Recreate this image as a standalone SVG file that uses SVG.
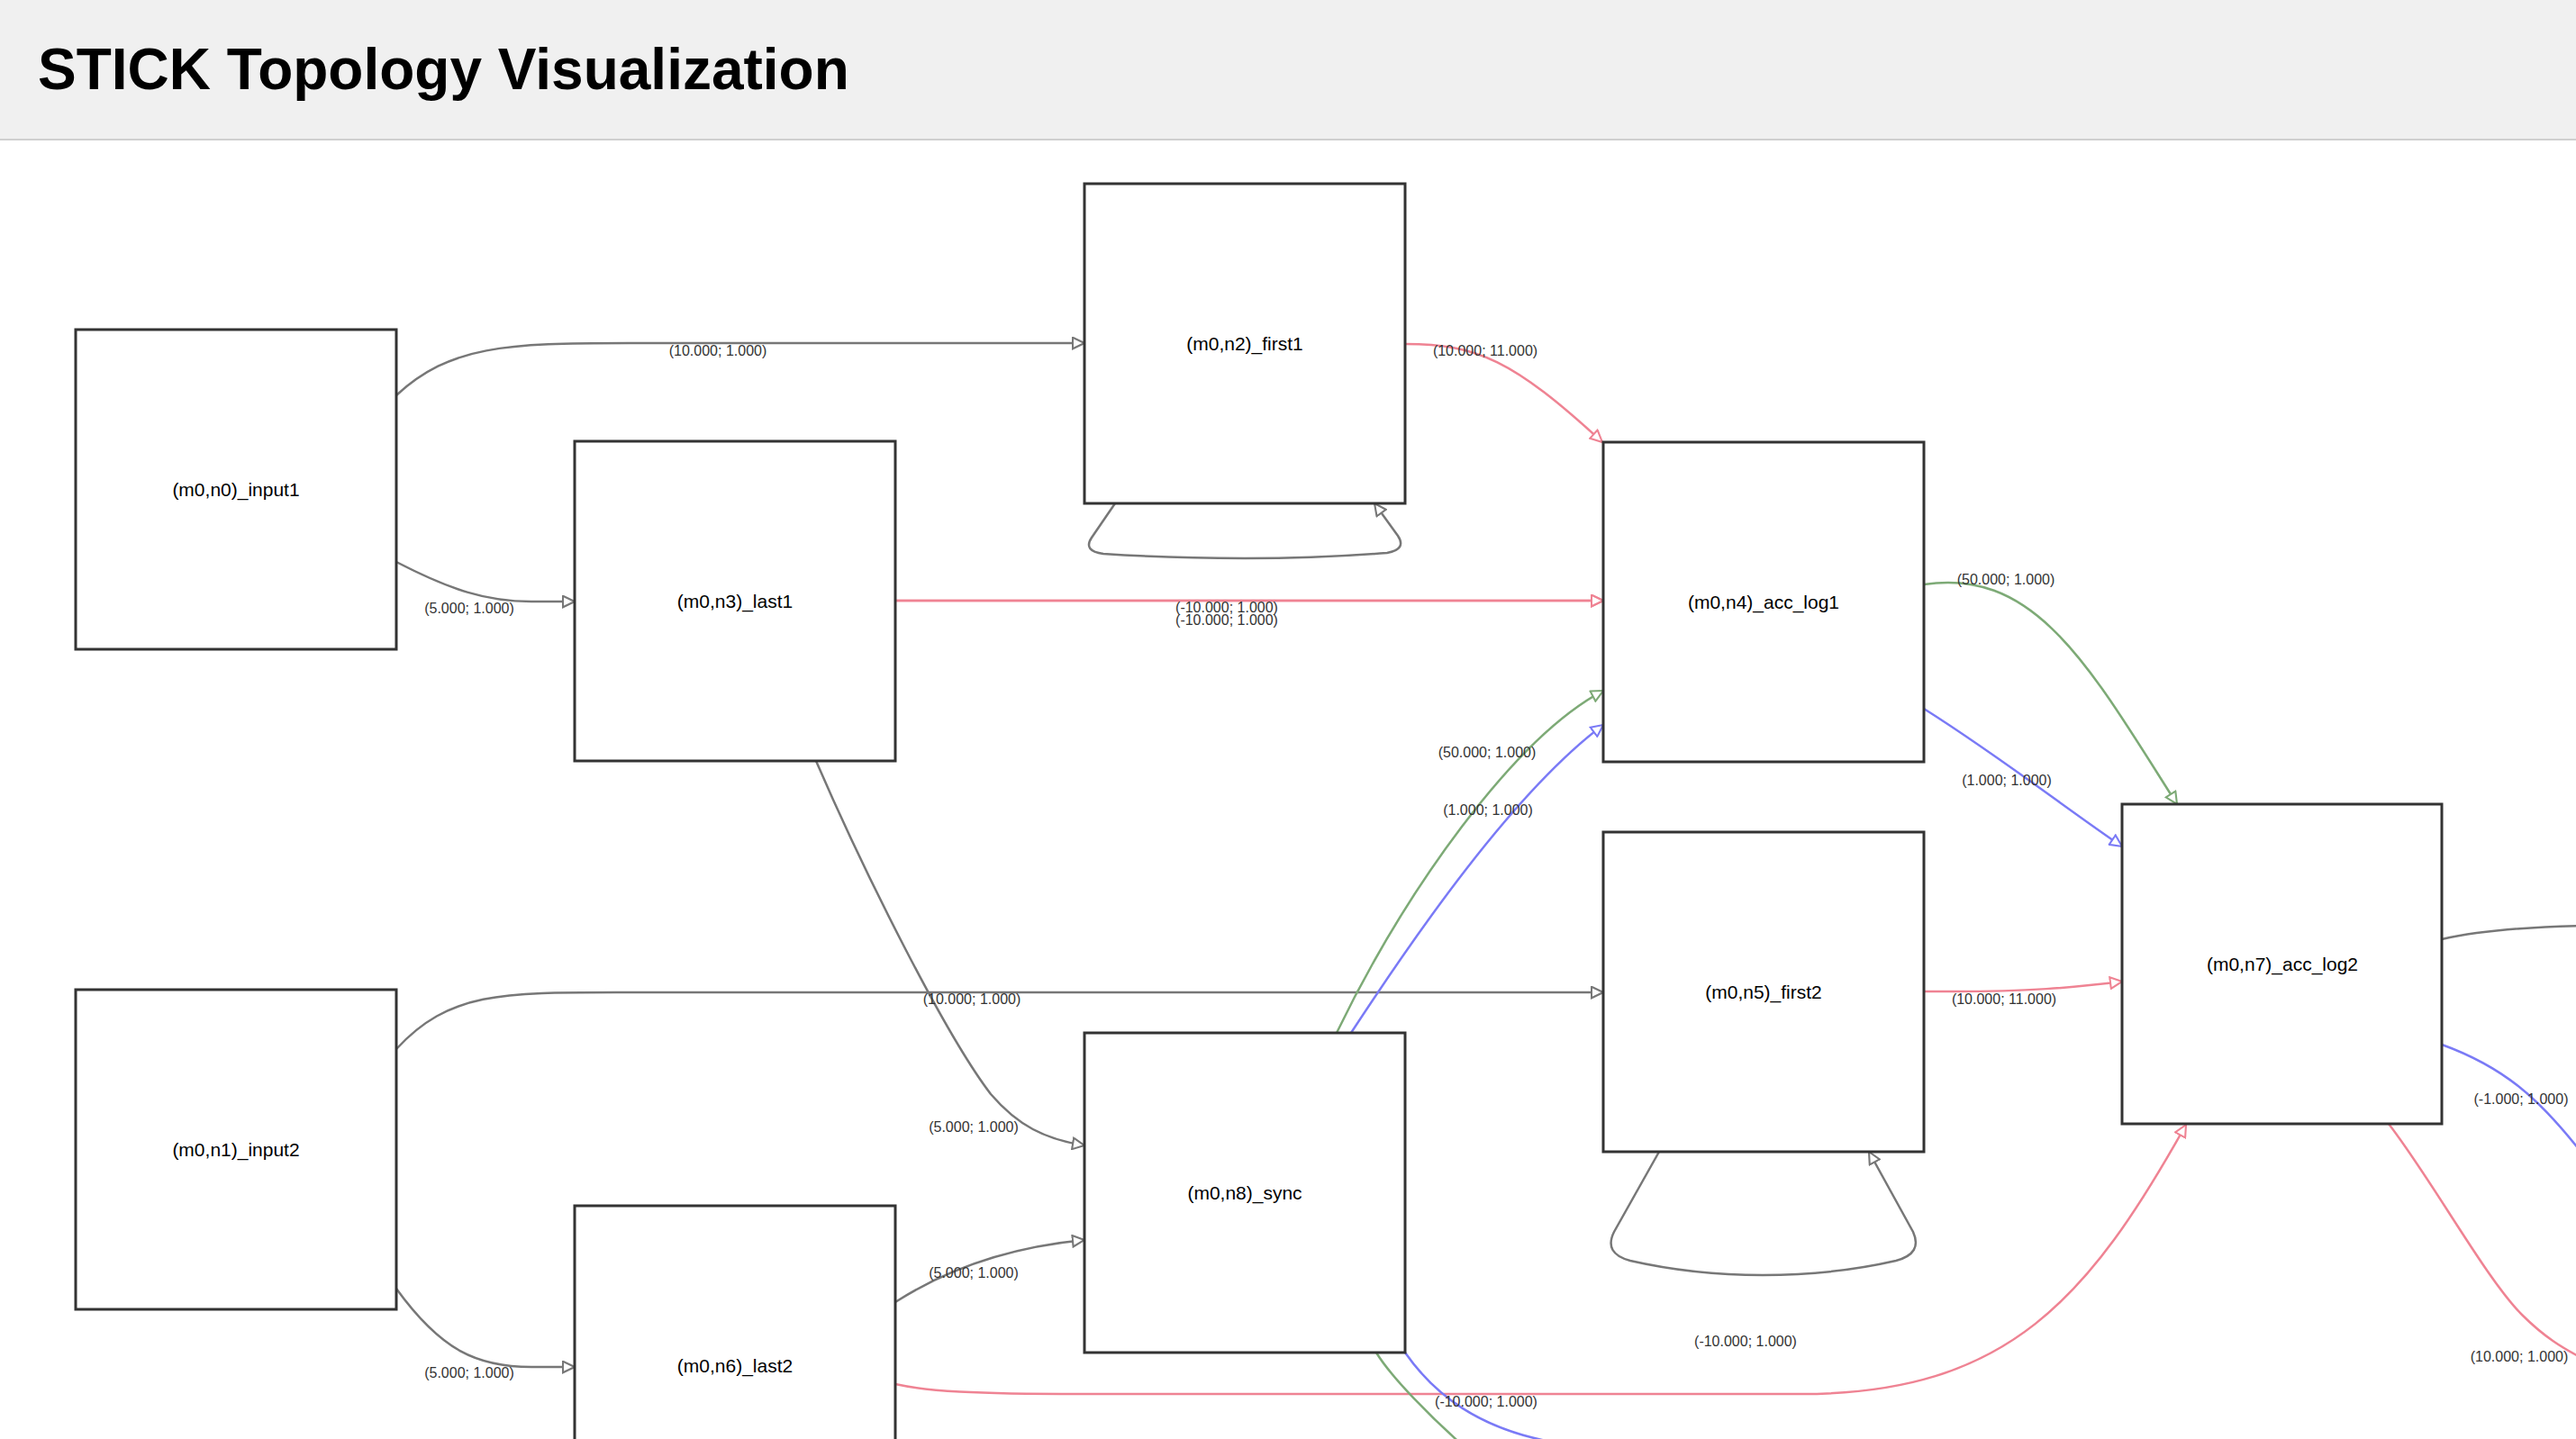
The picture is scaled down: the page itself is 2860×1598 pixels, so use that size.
<svg xmlns="http://www.w3.org/2000/svg" width="2860" height="1598" viewBox="0 0 2860 1598">
<style>
.node rect{fill:#fff;stroke:#333;stroke-width:3}
.node text{font-family:"Liberation Sans",Arial,sans-serif;font-size:21px;fill:#000;text-anchor:middle}
.edge{fill:none;stroke-width:2.5}
.gray{stroke:#777}
.red{stroke:#ef8393}
.green{stroke:#7daa76}
.blue{stroke:#7a7af6}
.lbl{font-family:"Liberation Sans",Arial,sans-serif;font-size:16px;fill:#333;text-anchor:middle}
</style>
<defs>
<marker id="mg" viewBox="0 0 10 10" refX="9.5" refY="5" markerUnits="userSpaceOnUse" markerWidth="15" markerHeight="15" orient="auto"><path d="M0.8,0.8 L9.5,5 L0.8,9.2 z" fill="#fff" stroke="#777" stroke-width="1.4"/></marker>
<marker id="mr" viewBox="0 0 10 10" refX="9.5" refY="5" markerUnits="userSpaceOnUse" markerWidth="15" markerHeight="15" orient="auto"><path d="M0.8,0.8 L9.5,5 L0.8,9.2 z" fill="#fff" stroke="#ef8393" stroke-width="1.4"/></marker>
<marker id="mgr" viewBox="0 0 10 10" refX="9.5" refY="5" markerUnits="userSpaceOnUse" markerWidth="15" markerHeight="15" orient="auto"><path d="M0.8,0.8 L9.5,5 L0.8,9.2 z" fill="#fff" stroke="#7daa76" stroke-width="1.4"/></marker>
<marker id="mb" viewBox="0 0 10 10" refX="9.5" refY="5" markerUnits="userSpaceOnUse" markerWidth="15" markerHeight="15" orient="auto"><path d="M0.8,0.8 L9.5,5 L0.8,9.2 z" fill="#fff" stroke="#7a7af6" stroke-width="1.4"/></marker>
</defs>
<rect x="0" y="0" width="2860" height="1598" fill="#fff"/>
<g id="header">
<rect x="0" y="0" width="2860" height="154" fill="#f0f0f0"/>
<line x1="0" y1="155" x2="2860" y2="155" stroke="#cfcfcf" stroke-width="2"/>
<text x="42" y="99" font-family="Liberation Sans,Arial,sans-serif" font-size="64" font-weight="bold" fill="#000">STICK Topology Visualization</text>
</g>
<g id="connectors">
<path class="edge gray" d="M440,439 C500,384 560,381 700,381 L1204,381" marker-end="url(#mg)"/>
<path class="edge gray" d="M440,624 C500,655 540,668 590,668 L638,668" marker-end="url(#mg)"/>
<path class="edge gray" d="M1238,559 L1212,597 Q1202,612 1225,615 Q1300,620 1382,620 Q1465,620 1540,614 Q1562,610 1552,595 L1526,559" marker-end="url(#mg)"/>
<path class="edge red" d="M1560,382 C1640,382 1680,400 1779,491" marker-end="url(#mr)"/>
<path class="edge red" d="M994,667 L1780,667" marker-end="url(#mr)"/>
<path class="edge red" d="M994,667 L1780,667" marker-end="url(#mr)"/>
<path class="edge green" d="M2136,649 C2260,630 2320,740 2417,893" marker-end="url(#mgr)"/>
<path class="edge blue" d="M2136,787 C2220,840 2290,895 2356,940" marker-end="url(#mb)"/>
<path class="edge gray" d="M2711,1043 C2760,1032 2820,1029 2870,1028"/>
<path class="edge blue" d="M2711,1160 C2780,1185 2820,1220 2870,1285"/>
<path class="edge red" d="M2652,1248 C2700,1310 2760,1420 2800,1460 C2825,1485 2845,1497 2870,1510"/>
<path class="edge gray" d="M440,1165 C500,1100 560,1102 700,1102 L1780,1102" marker-end="url(#mg)"/>
<path class="edge gray" d="M906,845 C960,970 1050,1150 1100,1215 C1130,1250 1160,1265 1204,1272" marker-end="url(#mg)"/>
<path class="edge gray" d="M994,1446 C1050,1410 1120,1385 1204,1377" marker-end="url(#mg)"/>
<path class="edge gray" d="M440,1431 C490,1500 530,1518 590,1518 L638,1518" marker-end="url(#mg)"/>
<path class="edge red" d="M994,1537 C1030,1545 1080,1548 1200,1548 L2000,1548 C2230,1548 2320,1440 2427,1249" marker-end="url(#mr)"/>
<path class="edge green" d="M1484,1147 C1560,990 1680,820 1780,767" marker-end="url(#mgr)"/>
<path class="edge blue" d="M1500,1147 C1570,1040 1680,880 1780,805" marker-end="url(#mb)"/>
<path class="edge green" d="M1528,1502 C1545,1530 1590,1575 1625,1606"/>
<path class="edge blue" d="M1560,1502 C1590,1545 1640,1590 1740,1604"/>
<path class="edge red" d="M2136,1101 L2170,1101 C2250,1101 2300,1097 2356,1090" marker-end="url(#mr)"/>
<path class="edge gray" d="M1842,1279 L1792,1368 Q1780,1392 1810,1400 Q1880,1416 1957,1416 Q2035,1416 2105,1400 Q2135,1392 2124,1368 L2075,1279" marker-end="url(#mg)"/>
</g>
<g id="edge-labels">
<text class="lbl" x="797" y="395">(10.000; 1.000)</text>
<text class="lbl" x="521" y="681">(5.000; 1.000)</text>
<text class="lbl" x="1649" y="395">(10.000; 11.000)</text>
<text class="lbl" x="1362" y="680">(-10.000; 1.000)</text>
<text class="lbl" x="1362" y="694">(-10.000; 1.000)</text>
<text class="lbl" x="2227" y="649">(50.000; 1.000)</text>
<text class="lbl" x="2228" y="872">(1.000; 1.000)</text>
<text class="lbl" x="2799" y="1226">(-1.000; 1.000)</text>
<text class="lbl" x="2797" y="1512">(10.000; 1.000)</text>
<text class="lbl" x="1079" y="1115">(10.000; 1.000)</text>
<text class="lbl" x="1081" y="1257">(5.000; 1.000)</text>
<text class="lbl" x="1081" y="1419">(5.000; 1.000)</text>
<text class="lbl" x="521" y="1530">(5.000; 1.000)</text>
<text class="lbl" x="1938" y="1495">(-10.000; 1.000)</text>
<text class="lbl" x="1651" y="841">(50.000; 1.000)</text>
<text class="lbl" x="1652" y="905">(1.000; 1.000)</text>
<text class="lbl" x="1650" y="1562">(-10.000; 1.000)</text>
<text class="lbl" x="2225" y="1115">(10.000; 11.000)</text>
</g>
<g id="n0" class="node"><rect x="84" y="366" width="356" height="355"/><text x="262" y="551">(m0,n0)_input1</text></g>
<g id="n1" class="node"><rect x="84" y="1099" width="356" height="355"/><text x="262" y="1284">(m0,n1)_input2</text></g>
<g id="n2" class="node"><rect x="1204" y="204" width="356" height="355"/><text x="1382" y="389">(m0,n2)_first1</text></g>
<g id="n3" class="node"><rect x="638" y="490" width="356" height="355"/><text x="816" y="675">(m0,n3)_last1</text></g>
<g id="n4" class="node"><rect x="1780" y="491" width="356" height="355"/><text x="1958" y="676">(m0,n4)_acc_log1</text></g>
<g id="n5" class="node"><rect x="1780" y="924" width="356" height="355"/><text x="1958" y="1109">(m0,n5)_first2</text></g>
<g id="n6" class="node"><rect x="638" y="1339" width="356" height="355"/><text x="816" y="1524">(m0,n6)_last2</text></g>
<g id="n7" class="node"><rect x="2356" y="893" width="355" height="355"/><text x="2534" y="1078">(m0,n7)_acc_log2</text></g>
<g id="n8" class="node"><rect x="1204" y="1147" width="356" height="355"/><text x="1382" y="1332">(m0,n8)_sync</text></g>
</svg>
